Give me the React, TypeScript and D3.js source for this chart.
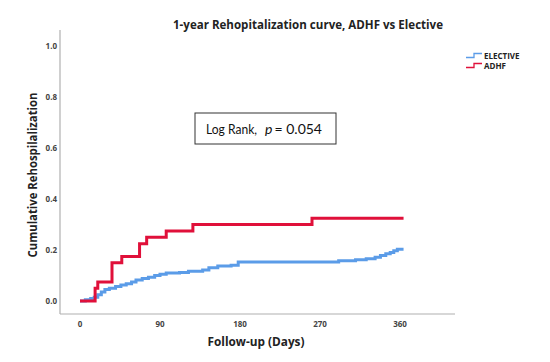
import React from 'react';
import * as d3 from 'd3';

// values (days, cumulative rehospitalization)
const adhfDays = [0, 17, 20, 36, 47, 67, 75, 97, 127, 261, 364];
const adhfRates = [0, 0.05, 0.075, 0.15, 0.175, 0.225, 0.25, 0.275, 0.3, 0.325, 0.325];

const electiveDays = [0, 6, 12, 16, 20, 24, 28, 33, 40, 46, 52, 58, 63, 70, 77, 84, 90, 97, 112, 122, 138, 145, 155, 170, 178, 291, 310, 322, 332, 338, 344, 349, 353, 357, 364];
const electiveRates = [0, 0.005, 0.01, 0.015, 0.025, 0.035, 0.045, 0.05, 0.057, 0.063, 0.068, 0.075, 0.082, 0.088, 0.093, 0.1, 0.105, 0.11, 0.112, 0.117, 0.122, 0.13, 0.137, 0.14, 0.153, 0.158, 0.162, 0.166, 0.172, 0.178, 0.185, 0.19, 0.197, 0.203, 0.203];

const xTicks = [0, 90, 180, 270, 360];
const yTicks = [0, 0.2, 0.4, 0.6, 0.8, 1.0];

const seriesNames = ['ELECTIVE', 'ADHF'];
const seriesColors = ['#5b9ce8', '#e0103a'];

export default function App() {
  const width = 550;
  const height = 362;

  const x = d3.scaleLinear().domain([0, 360]).range([80, 400]);
  const y = d3.scaleLinear().domain([0, 1]).range([301, 46]);

  const line = d3
    .line<[number, number]>()
    .x(d => x(d[0]))
    .y(d => y(d[1]))
    .curve(d3.curveStepAfter);

  const adhf = adhfDays.map((d, i) => [d, adhfRates[i]] as [number, number]);
  const elective = electiveDays.map((d, i) => [d, electiveRates[i]] as [number, number]);

  const font = '"Open Sans", "DejaVu Sans", sans-serif';
  const boxFont = 'Lato, "Open Sans", sans-serif';
  const axisY = 314;
  const axisX = 60;

  return (
    <svg width={width} height={height} style={{ position: 'absolute', left: 0, top: 0, background: '#fff' }}>
      <text x={308} y={29} textAnchor="middle" fontFamily={font} fontWeight="bold" fontSize={12}
        textLength={270} lengthAdjust="spacingAndGlyphs" fill="#222">
        1-year Rehopitalization curve, ADHF vs Elective
      </text>

      {/* axes */}
      <line x1={axisX} x2={axisX} y1={30} y2={axisY} stroke="#b0b0b0" strokeWidth={1.2} />
      <line x1={axisX} x2={455} y1={axisY} y2={axisY} stroke="#b0b0b0" strokeWidth={1.2} />

      {yTicks.map(t => (
        <text key={'y' + t} x={57} y={y(t) + 3} textAnchor="end" fontFamily={font} fontWeight="bold"
          fontSize={8} fill="#444">
          {t.toFixed(1)}
        </text>
      ))}
      {xTicks.map(t => (
        <text key={'x' + t} x={x(t)} y={327} textAnchor="middle" fontFamily={font} fontWeight="bold"
          fontSize={8} fill="#444">
          {t}
        </text>
      ))}

      <text transform="translate(37,175) rotate(-90)" textAnchor="middle" fontFamily={font} fontWeight="bold"
        fontSize={13} textLength={165} lengthAdjust="spacingAndGlyphs" fill="#222">
        Cumulative Rehospilalization
      </text>
      <text x={256} y={346} textAnchor="middle" fontFamily={font} fontWeight="bold" fontSize={13}
        textLength={97} lengthAdjust="spacingAndGlyphs" fill="#222">
        Follow-up (Days)
      </text>

      {/* curves */}
      <path d={line(elective) || ''} fill="none" stroke={seriesColors[0]} strokeWidth={3} />
      <path d={line(adhf) || ''} fill="none" stroke={seriesColors[1]} strokeWidth={3} />

      {/* legend */}
      {seriesNames.map((name, i) => {
        const ly = 55.5 + i * 10;
        return (
          <g key={name} transform={`translate(466,${ly})`}>
            <path d="M0,2 H8 V-2 H16" fill="none" stroke={seriesColors[i]} strokeWidth={1.3} />
            <text x={18} y={3} fontFamily={font} fontWeight="bold" fontSize={8} fill="#222">
              {name}
            </text>
          </g>
        );
      })}

      {/* log rank box */}
      <rect x={195} y={113} width={141} height={31} fill="#fff" stroke="#333" strokeWidth={1} />
      <text x={206} y={134} fontFamily={boxFont} fontSize={14} fill="#111" textLength={51}
        lengthAdjust="spacingAndGlyphs">
        Log Rank,
      </text>
      <text x={265} y={134} fontFamily={boxFont} fontSize={14} fontStyle="italic" fill="#111">
        p
      </text>
      <text x={274.5} y={134} fontFamily={boxFont} fontSize={14} fill="#111" textLength={47.5}
        lengthAdjust="spacingAndGlyphs">
        = 0.054
      </text>
    </svg>
  );
}
